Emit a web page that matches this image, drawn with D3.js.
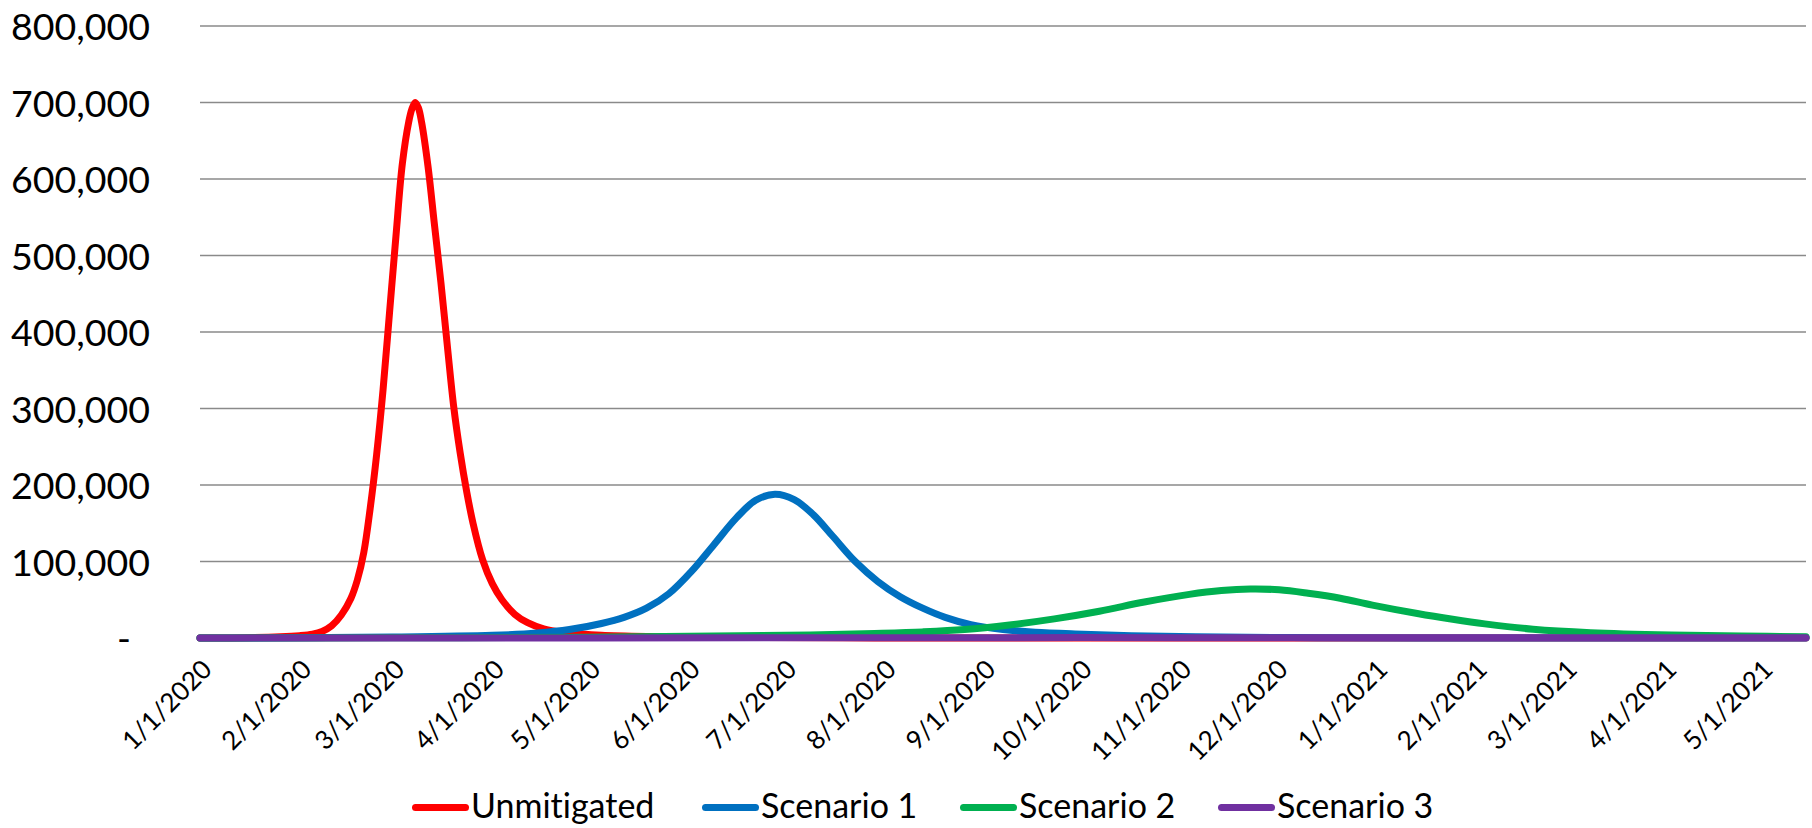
<!DOCTYPE html>
<html>
<head>
<meta charset="utf-8">
<script src="https://cdn.jsdelivr.net/npm/d3@7"></script>
<style>
  html, body { margin: 0; padding: 0; background: #ffffff; }
  svg { display: block; font-family: Lato, "Open Sans", sans-serif; font-variant-ligatures: none; }
</style>
</head>
<body>
<svg id="chart" width="1812" height="828"></svg>
<script>
// Daily case projections by scenario: [date, cases]
const unmitigated = [
  ["2020-01-01", 0], ["2020-01-15", 300], ["2020-01-26", 1500], ["2020-02-01", 3000],
  ["2020-02-05", 5000], ["2020-02-08", 8500], ["2020-02-11", 16000], ["2020-02-14", 30000],
  ["2020-02-17", 52000], ["2020-02-19", 76000], ["2020-02-21", 112000], ["2020-02-23", 170000],
  ["2020-02-25", 240000], ["2020-02-27", 325000], ["2020-02-29", 425000], ["2020-03-02", 525000],
  ["2020-03-04", 620000], ["2020-03-06", 675000], ["2020-03-07", 692000], ["2020-03-08", 700000],
  ["2020-03-09", 693000], ["2020-03-10", 674000], ["2020-03-12", 616000], ["2020-03-14", 540000],
  ["2020-03-16", 465000], ["2020-03-18", 382000], ["2020-03-20", 302000], ["2020-03-22", 242000],
  ["2020-03-24", 192000], ["2020-03-26", 150000], ["2020-03-29", 102000], ["2020-04-01", 71000],
  ["2020-04-04", 50000], ["2020-04-08", 31000], ["2020-04-12", 20000], ["2020-04-17", 12000],
  ["2020-04-22", 8000], ["2020-04-28", 5500], ["2020-05-05", 3500], ["2020-05-20", 1800],
  ["2020-06-09", 700], ["2020-07-19", 200], ["2020-09-17", 0], ["2021-05-15", 0]
];

const scenario1 = [
  ["2020-01-01", 0], ["2020-01-31", 300], ["2020-03-01", 1200], ["2020-04-01", 3500],
  ["2020-04-15", 6500], ["2020-04-25", 11000], ["2020-05-05", 19000], ["2020-05-12", 27000],
  ["2020-05-19", 39000], ["2020-05-26", 58000], ["2020-06-02", 87000], ["2020-06-09", 122000],
  ["2020-06-16", 157000], ["2020-06-22", 180000], ["2020-06-28", 188000], ["2020-07-04", 181000],
  ["2020-07-10", 161000], ["2020-07-16", 133000], ["2020-07-23", 100000], ["2020-07-30", 74000],
  ["2020-08-06", 54000], ["2020-08-13", 39000], ["2020-08-20", 27000], ["2020-08-28", 17500],
  ["2020-09-07", 11000], ["2020-09-17", 7500], ["2020-10-02", 5000], ["2020-10-17", 3000],
  ["2020-11-06", 1500], ["2020-12-06", 600], ["2021-01-15", 100], ["2021-05-15", 0]
];

const scenario2 = [
  ["2020-01-01", 0], ["2020-03-01", 200], ["2020-05-01", 1000], ["2020-06-09", 2500],
  ["2020-07-09", 4000], ["2020-07-29", 6000], ["2020-08-13", 8000], ["2020-08-26", 11000],
  ["2020-09-09", 17000], ["2020-09-23", 25000], ["2020-10-07", 35000], ["2020-10-21", 47000],
  ["2020-11-04", 57000], ["2020-11-14", 62000], ["2020-11-23", 64000], ["2020-12-02", 63000],
  ["2020-12-11", 58500], ["2020-12-21", 52000], ["2020-12-31", 43000], ["2021-01-14", 32000],
  ["2021-01-25", 24500], ["2021-02-04", 18500], ["2021-02-19", 11500], ["2021-03-09", 7000],
  ["2021-04-03", 4000], ["2021-04-25", 2700], ["2021-05-15", 1500]
];

const scenario3 = [
  ["2020-01-01", 0], ["2020-04-01", 100], ["2020-07-01", 300], ["2020-10-01", 500],
  ["2021-01-01", 400], ["2021-04-01", 300], ["2021-05-15", 200]
];

const seriesNames = ["Unmitigated", "Scenario 1", "Scenario 2", "Scenario 3"];
const seriesColors = ["#FF0000", "#0070C0", "#00B050", "#7030A0"];
const yTickValues = [0, 100000, 200000, 300000, 400000, 500000, 600000, 700000, 800000];
const xTickLabels = ["1/1/2020", "2/1/2020", "3/1/2020", "4/1/2020", "5/1/2020", "6/1/2020",
  "7/1/2020", "8/1/2020", "9/1/2020", "10/1/2020", "11/1/2020", "12/1/2020",
  "1/1/2021", "2/1/2021", "3/1/2021", "4/1/2021", "5/1/2021"];
const dateDomain = ["2020-01-01", "2021-05-15"];

// ---- layout ----
const plot = { left: 200, right: 1806, top: 26, bottom: 638 };
const parseDate = d3.utcParse("%Y-%m-%d");
const parseTick = d3.utcParse("%m/%d/%Y");
const lineWidth = 7;

const svg = d3.select("#chart");
svg.append("rect").attr("width", 1812).attr("height", 828).attr("fill", "#ffffff");

const x = d3.scaleUtc()
  .domain(dateDomain.map(parseDate))
  .range([plot.left, plot.right]);

const y = d3.scaleLinear()
  .domain([0, 800000])
  .range([plot.bottom, plot.top]);

// horizontal gridlines
svg.append("g")
  .selectAll("line")
  .data(yTickValues)
  .join("line")
  .attr("x1", plot.left)
  .attr("x2", plot.right)
  .attr("y1", d => y(d))
  .attr("y2", d => y(d))
  .attr("stroke", "#8a8a8a")
  .attr("stroke-width", 1.6);

// value axis
const yAxis = d3.axisLeft(y)
  .tickValues(yTickValues)
  .tickSize(0)
  .tickPadding(50)
  .tickFormat(d => d === 0 ? "-" : d3.format(",")(d));

const yAxisG = svg.append("g")
  .attr("transform", `translate(${plot.left},0)`)
  .call(yAxis);
yAxisG.select(".domain").remove();
yAxisG.selectAll("text")
  .attr("font-family", "Lato, sans-serif")
  .attr("font-size", 37.5)
  .attr("fill", "#000000")
  .attr("dy", "0.36em")
  .filter(d => d === 0)
  .attr("x", -69);

// date axis
const xAxis = d3.axisBottom(x)
  .tickValues(xTickLabels.map(parseTick))
  .tickSize(0)
  .tickFormat((d, i) => xTickLabels[i]);

const xAxisG = svg.append("g")
  .attr("transform", `translate(0,${plot.bottom})`)
  .call(xAxis);
xAxisG.select(".domain").remove();
xAxisG.selectAll("text")
  .attr("font-family", "Lato, sans-serif")
  .attr("font-size", 26)
  .attr("fill", "#000000")
  .attr("text-anchor", "end")
  .attr("x", 0)
  .attr("y", 0)
  .attr("dy", 0)
  .attr("transform", "translate(13,33) rotate(-45)");

// series lines (smoothed)
const line = d3.line()
  .x(d => x(parseDate(d[0])))
  .y(d => y(Math.max(0, d[1])))
  .curve(d3.curveCatmullRom.alpha(0.5));

const allSeries = [unmitigated, scenario1, scenario2, scenario3];

svg.append("g")
  .selectAll("path")
  .data(allSeries)
  .join("path")
  .attr("d", line)
  .attr("fill", "none")
  .attr("stroke", (d, i) => seriesColors[i])
  .attr("stroke-width", lineWidth)
  .attr("stroke-linejoin", "round")
  .attr("stroke-linecap", "round");

// legend
const legendStarts = [412, 702, 960, 1218];
const legendY = 806;
const legend = svg.append("g")
  .selectAll("g")
  .data(seriesNames)
  .join("g")
  .attr("transform", (d, i) => `translate(${legendStarts[i]},${legendY})`);

legend.append("line")
  .attr("x1", lineWidth / 2)
  .attr("x2", 57 - lineWidth / 2)
  .attr("y1", 1.5)
  .attr("y2", 1.5)
  .attr("stroke", (d, i) => seriesColors[i])
  .attr("stroke-width", lineWidth)
  .attr("stroke-linecap", "round");

legend.append("text")
  .attr("x", 59)
  .attr("y", 0)
  .attr("dy", "0.36em")
  .attr("font-family", "Lato, sans-serif")
  .attr("font-size", 34)
  .attr("fill", "#000000")
  .text(d => d);
</script>
</body>
</html>
